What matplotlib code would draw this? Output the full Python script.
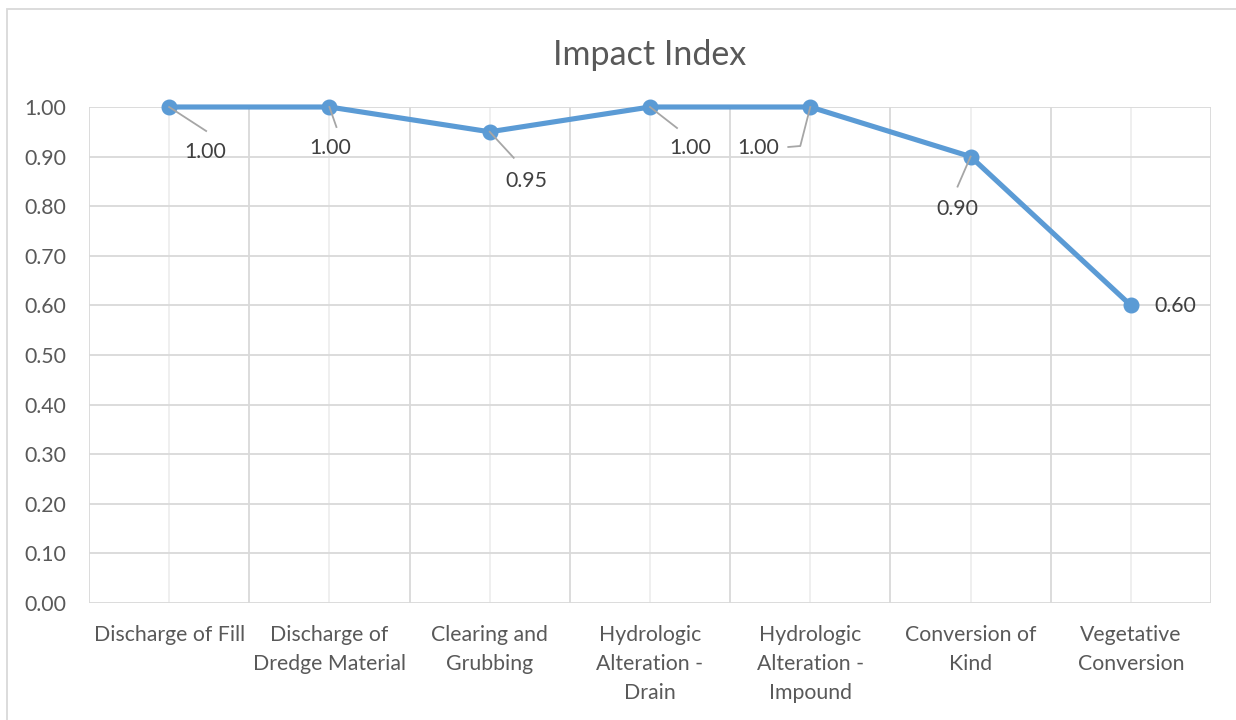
import numpy as np
import matplotlib
matplotlib.use('Agg')
import matplotlib.pyplot as plt
from matplotlib.patches import Rectangle
from matplotlib.lines import Line2D
from matplotlib.transforms import IdentityTransform

categories = ['Discharge of Fill', 'Discharge of\nDredge Material', 'Clearing and\nGrubbing',
              'Hydrologic\nAlteration -\nDrain', 'Hydrologic\nAlteration -\nImpound',
              'Conversion of\nKind', 'Vegetative\nConversion']
impact = [1.00, 1.00, 0.95, 1.00, 1.00, 0.90, 0.60]
y_ticks = [0.0, 0.1, 0.2, 0.3, 0.4, 0.5, 0.6, 0.7, 0.8, 0.9, 1.0]

# label offsets in pixels (x right, y up) and leader line vertices relative to the point
label_offsets = [(36, -45), (1, -41), (37, -49), (40, -41), (-52, -41), (-13, -52), (44, -1)]
leaders = [[(0, 0), (37, -24)],
           [(0, 0), (7, -20)],
           [(0, 0), (24, -26)],
           [(0, 0), (27, -21)],
           [(0, 0), (-10, -39), (-22, -40)],
           [(0, 0), (-13, -30)],
           None]

plt.rcParams['font.family'] = ['Lato', 'DejaVu Sans']
blue = '#5B9BD5'
grid_dark = '#D9D9D9'
grid_light = '#EEEEEE'
txt = '#595959'
fs = 15.3

fig = plt.figure(figsize=(12.36, 7.2), dpi=100)
ax = fig.add_axes([89/1236, 1 - 603/720, (1211-89)/1236, (603-107)/720])

# outer chart border (only top/left edges fall inside the image)
fig.patches.append(Rectangle((7/1236, -0.5), 2, 1.5 - 9/720, transform=fig.transFigure,
                             fill=False, edgecolor='#D9D9D9', linewidth=1.3))

x = np.arange(len(categories))
ax.set_xlim(-0.5, len(categories) - 0.5)
ax.set_ylim(0, 1.0)

for s in ax.spines.values():
    s.set_visible(False)

ax.set_xticks(x)
ax.set_xticklabels(categories, fontsize=fs, color=txt, linespacing=1.57, va='top')
ax.set_xticks(np.arange(-0.5, len(categories)), minor=True)
ax.set_yticks(y_ticks)
ax.set_yticklabels([f'{v:.2f}' for v in y_ticks], fontsize=fs, color=txt)
ax.tick_params(axis='both', which='both', length=0)
ax.tick_params(axis='x', pad=16)
ax.tick_params(axis='y', pad=16.5)

ax.grid(axis='y', color=grid_dark, linewidth=1.3)
ax.grid(axis='x', which='major', color=grid_light, linewidth=1.3)
ax.grid(axis='x', which='minor', color=grid_dark, linewidth=1.3)
ax.set_axisbelow(True)

ax.plot(x, impact, color=blue, linewidth=3.7, marker='o', markersize=10.5,
        solid_capstyle='round', zorder=3, clip_on=False)

ax.set_title('Impact Index', fontsize=24.5, color=txt, pad=30)

for i, v in enumerate(impact):
    dx, dy = label_offsets[i]
    ax.annotate(f'{v:.2f}', xy=(i, v), xytext=(dx, dy), textcoords='offset pixels',
                ha='center', va='center', fontsize=fs, color='#404040', zorder=4)

fig.canvas.draw()
for i, v in enumerate(impact):
    if leaders[i] is None:
        continue
    px, py = ax.transData.transform((i, v))
    xs = [px + a for a, b in leaders[i]]
    ys = [py + b for a, b in leaders[i]]
    fig.add_artist(Line2D(xs, ys, transform=IdentityTransform(), color='#A6A6A6',
                          linewidth=1.3, zorder=2))

fig.savefig('out.png', dpi=100)
